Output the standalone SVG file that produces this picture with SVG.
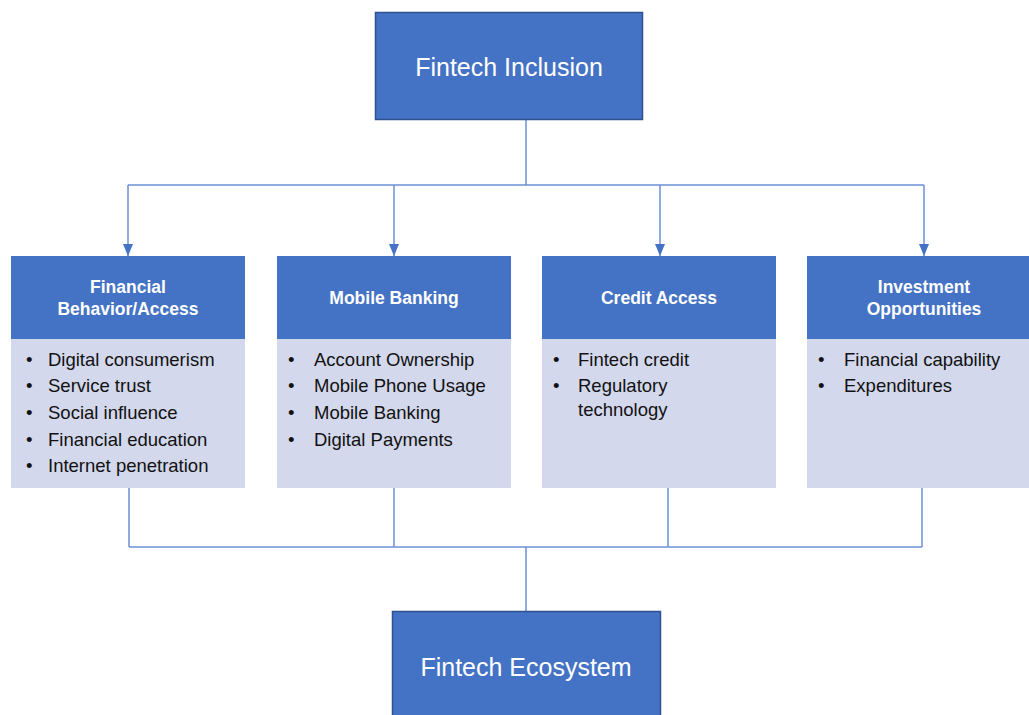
<svg xmlns="http://www.w3.org/2000/svg" width="1029" height="715" viewBox="0 0 1029 715">
<style>
.main{fill:#4472C4;stroke:#2F528F;stroke-width:1.5}
.hdr{fill:#4472C4}
.body{fill:#D3D8EC}
.t-main{font-family:"Liberation Sans",Arial,sans-serif;font-size:25px;fill:#fff;text-anchor:middle}
.t-hdr{font-family:"Liberation Sans",Arial,sans-serif;font-size:17.5px;font-weight:bold;fill:#fff;text-anchor:middle}
.t-item{font-family:"Liberation Sans",Arial,sans-serif;font-size:18.5px;fill:#111}
.conn{fill:none;stroke:#6B8FD6;stroke-width:1.5}
</style>
<defs>
<marker id="arr" viewBox="0 0 12 10" refX="12" refY="5" markerWidth="12" markerHeight="10" markerUnits="userSpaceOnUse" orient="auto">
<path d="M0,0 L12,5 L0,10 Z" fill="#4472C4"/>
</marker>
</defs>
<rect width="1029" height="715" fill="#fff"/>
<g id="connectors">
<path class="conn" d="M526,120 V185"/>
<path class="conn" d="M128,185 H924"/>
<path class="conn" d="M128,185 V256" marker-end="url(#arr)"/>
<path class="conn" d="M394,185 V256" marker-end="url(#arr)"/>
<path class="conn" d="M660,185 V256" marker-end="url(#arr)"/>
<path class="conn" d="M924,185 V256" marker-end="url(#arr)"/>
<path class="conn" d="M129,488 V547"/>
<path class="conn" d="M394,488 V547"/>
<path class="conn" d="M668,488 V547"/>
<path class="conn" d="M922,488 V547"/>
<path class="conn" d="M129,547 H922"/>
<path class="conn" d="M526,547 V611"/>
</g>
<g id="fintech-inclusion">
<rect class="main" x="375.5" y="12.5" width="267" height="107"/>
<text class="t-main" x="509" y="76">Fintech Inclusion</text>
</g>
<g id="financial-behavior">
<rect class="hdr" x="11" y="256" width="234" height="83"/>
<rect class="body" x="11" y="339" width="234" height="149"/>
<text class="t-hdr" x="128" y="293">Financial</text>
<text class="t-hdr" x="128" y="315">Behavior/Access</text>
<g class="t-item">
<text x="26" y="366">•</text><text x="48" y="366">Digital consumerism</text>
<text x="26" y="392">•</text><text x="48" y="392">Service trust</text>
<text x="26" y="419">•</text><text x="48" y="419">Social influence</text>
<text x="26" y="446">•</text><text x="48" y="446">Financial education</text>
<text x="26" y="472">•</text><text x="48" y="472">Internet penetration</text>
</g>
</g>
<g id="mobile-banking">
<rect class="hdr" x="277" y="256" width="234" height="83"/>
<rect class="body" x="277" y="339" width="234" height="149"/>
<text class="t-hdr" x="394" y="304">Mobile Banking</text>
<g class="t-item">
<text x="288" y="366">•</text><text x="314" y="366">Account Ownership</text>
<text x="288" y="392">•</text><text x="314" y="392">Mobile Phone Usage</text>
<text x="288" y="419">•</text><text x="314" y="419">Mobile Banking</text>
<text x="288" y="446">•</text><text x="314" y="446">Digital Payments</text>
</g>
</g>
<g id="credit-access">
<rect class="hdr" x="542" y="256" width="234" height="83"/>
<rect class="body" x="542" y="339" width="234" height="149"/>
<text class="t-hdr" x="659" y="304">Credit Access</text>
<g class="t-item">
<text x="553" y="366">•</text><text x="578" y="366">Fintech credit</text>
<text x="553" y="392">•</text><text x="578" y="392">Regulatory</text>
<text x="578" y="416">technology</text>
</g>
</g>
<g id="investment-opportunities">
<rect class="hdr" x="807" y="256" width="234" height="83"/>
<rect class="body" x="807" y="339" width="234" height="149"/>
<text class="t-hdr" x="924" y="293">Investment</text>
<text class="t-hdr" x="924" y="315">Opportunities</text>
<g class="t-item">
<text x="818" y="366">•</text><text x="844" y="366">Financial capability</text>
<text x="818" y="392">•</text><text x="844" y="392">Expenditures</text>
</g>
</g>
<g id="fintech-ecosystem">
<rect class="main" x="392.5" y="611.5" width="268" height="110"/>
<text class="t-main" x="526" y="676">Fintech Ecosystem</text>
</g>
</svg>
